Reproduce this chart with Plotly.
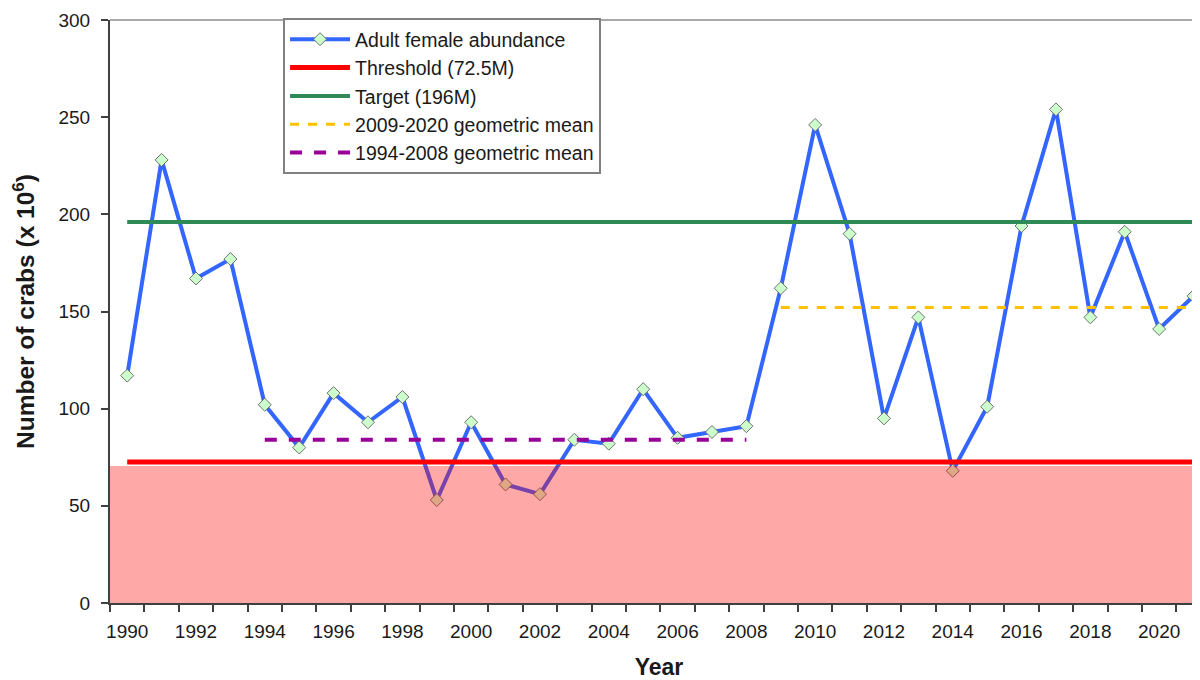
import plotly.graph_objects as go

years = list(range(1990, 2022))
abundance = [117, 228, 167, 177, 102, 80, 108, 93, 106, 53, 93, 61, 56, 84, 82, 110,
             85, 88, 91, 162, 246, 190, 95, 147, 68, 101, 194, 254, 147, 191, 141, 158]
threshold_value = 72.5
target_value = 196
mean_2009_2020 = 152
mean_1994_2008 = 84
mean_late_years = [2009, 2021]
mean_early_years = [1994, 2008]
x_tick_labels = [str(y) for y in range(1990, 2022, 2)]

font_family = "Liberation Sans, Arial, sans-serif"

fig = go.Figure()

fig.add_trace(go.Scatter(
    x=years, y=abundance, mode="lines+markers", name="Adult female abundance",
    line=dict(color="#3366FF", width=4),
    marker=dict(symbol="diamond", size=10, color="#CCFFCC", line=dict(color="#707070", width=1)),
))
fig.add_trace(go.Scatter(
    x=[years[0], years[-1] + 0.1], y=[threshold_value, threshold_value], mode="lines",
    name="Threshold (72.5M)", line=dict(color="#FF0000", width=5),
))
fig.add_trace(go.Scatter(
    x=[years[0], years[-1] + 0.1], y=[target_value, target_value], mode="lines",
    name="Target (196M)", line=dict(color="#2E8B57", width=4),
))
fig.add_trace(go.Scatter(
    x=mean_late_years, y=[mean_2009_2020, mean_2009_2020], mode="lines",
    name="2009-2020 geometric mean", line=dict(color="#FFC000", width=3, dash="dash"),
))
fig.add_trace(go.Scatter(
    x=mean_early_years, y=[mean_1994_2008, mean_1994_2008], mode="lines",
    name="1994-2008 geometric mean", line=dict(color="#990099", width=4, dash="dash"),
))

# pink region below threshold (semi-transparent overlay above the series)
fig.add_shape(type="rect", xref="x domain", yref="y", x0=0, x1=1, y0=0, y1=70.5,
              fillcolor="rgba(255,0,0,0.34)", line=dict(width=0), layer="above")
# top frame line
fig.add_shape(type="line", xref="x domain", yref="y domain", x0=0, x1=1, y0=1, y1=1,
              line=dict(color="#8C8C8C", width=1.5), layer="below")

fig.update_layout(
    width=1200, height=680,
    margin=dict(l=102, r=0, t=12, b=85, autoexpand=False),
    paper_bgcolor="white", plot_bgcolor="white",
    font=dict(family=font_family, size=19, color="#1a1a1a"),
    showlegend=True,
    legend=dict(
        x=0.1576, y=1.0034, xanchor="left", yanchor="top",
        bgcolor="white", bordercolor="#808080", borderwidth=2,
        font=dict(family=font_family, size=19.5, color="#1a1a1a"),
        itemwidth=60, tracegroupgap=0,
    ),
    xaxis=dict(
        range=[1989.5, 2021.42], automargin=False,
        tickmode="array", tickvals=list(range(1990, 2022, 2)), ticktext=x_tick_labels,
        ticks="", showgrid=False, zeroline=False, ticklabelstandoff=10,
        showline=True, linecolor="#404040", linewidth=2,
        minor=dict(tick0=1989.5, dtick=1, ticks="outside", ticklen=7, tickcolor="#404040", tickwidth=1.5, showgrid=False),
        title=dict(text="<b>Year</b>", font=dict(size=23), standoff=18),
        tickfont=dict(size=19),
    ),
    yaxis=dict(
        range=[0, 300], automargin=False, tickmode="array", tickvals=[0, 50, 100, 150, 200, 250, 300],
        ticks="outside", ticklen=7, tickcolor="#404040", tickwidth=1.5, ticklabelstandoff=7,
        showgrid=False, zeroline=False,
        showline=True, linecolor="#404040", linewidth=2,
        title=dict(text="<b>Number of crabs (x 10<sup>6</sup>)</b>", font=dict(size=24.5), standoff=17),
        tickfont=dict(size=19),
    ),
)

fig.write_html("out.html")
